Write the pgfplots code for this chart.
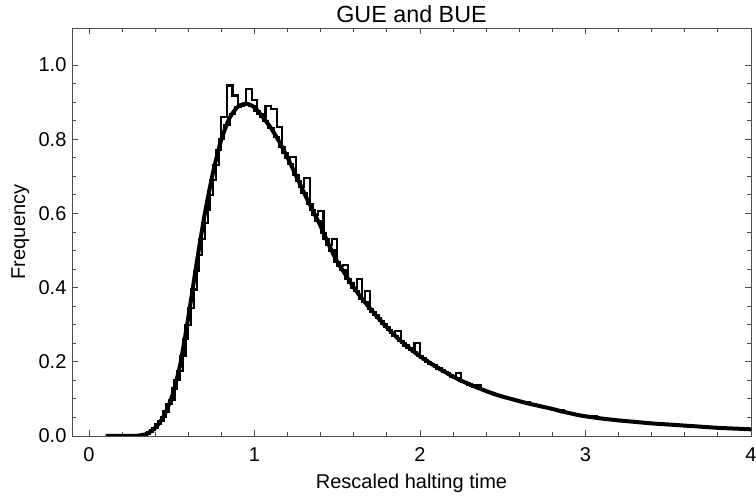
\documentclass[border=0pt]{standalone}
\usepackage{pgfplots}
\pgfplotsset{compat=1.18}
\usepackage{fontspec}
\setmainfont{Liberation Sans}
\begin{document}
\fontsize{15}{18}\selectfont
\begin{tikzpicture}
\path[use as bounding box] (-54pt,-46.5pt) rectangle (513pt,327pt);
\begin{axis}[
  at={(0,0)}, anchor=south west,
  scale only axis, width=509.25pt, height=306pt,
  xmin=-0.1028, xmax=4, ymin=0, ymax=1.1,
  /pgf/number format/assume math mode=true,
  xtick={0,1,2,3,4}, minor x tick num=4,
  ytick={0,0.2,0.4,0.6,0.8,1.0}, minor y tick num=3,
  yticklabel style={/pgf/number format/fixed, /pgf/number format/fixed zerofill, /pgf/number format/precision=1, anchor=east, inner sep=0pt, xshift=-4pt, font=\fontsize{15}{18}\selectfont},
  xticklabel style={anchor=north, inner sep=0pt, yshift=-8.25pt, font=\fontsize{15}{18}\selectfont},
  tick align=inside,
  major tick length=4.5pt, minor tick length=3pt,
  axis line style={black!70, line width=0.7pt},
  every tick/.style={black!70, line width=0.7pt},
  title={GUE and BUE},
  title style={at={(axis description cs:0.5,0.99264)}, anchor=base, inner sep=0pt, font=\fontsize{17.5}{21}\selectfont},
  xlabel={Rescaled halting time},
  xlabel style={at={(axis description cs:0.5,-0.1299)}, anchor=base, inner sep=0pt, font=\fontsize{15}{18}\selectfont},
  ylabel={Frequency},
  ylabel style={at={(axis description cs:-0.0692,0.5)}, anchor=base, inner sep=0pt, font=\fontsize{15}{18}\selectfont},
]
% histogram A
\addplot[const plot mark left, black, line width=1.6pt, line join=miter] coordinates {
(0.2500,0) (0.3000,0.003) (0.3333,0.006) (0.3667,0.017)
(0.4000,0.032) (0.4333,0.052) (0.4667,0.087)
(0.5000,0.128) (0.5333,0.175) (0.5667,0.262)
(0.6000,0.345) (0.6333,0.445) (0.6667,0.530)
(0.7000,0.610) (0.7333,0.690) (0.7667,0.771)
(0.8000,0.860) (0.8333,0.945) (0.8667,0.918)
(0.9000,0.891) (0.9333,0.896) (0.9667,0.889)
(1.0000,0.877) (1.0333,0.860) (1.0667,0.890)
(1.1000,0.882) (1.1333,0.832) (1.1667,0.764)
(1.2000,0.734) (1.2333,0.703) (1.2667,0.671)
(1.3000,0.695) (1.3333,0.610) (1.3667,0.580)
(1.4000,0.548) (1.4333,0.515) (1.4667,0.530)
(1.5000,0.458) (1.5333,0.462) (1.5667,0.412)
(1.6000,0.390) (1.6333,0.370) (1.6667,0.392)
(1.7000,0.334) (1.7333,0.317) (1.7667,0.301)
(1.8000,0.285) (1.8333,0.270) (1.8667,0.257)
(1.9000,0.244) (1.9333,0.232) (1.9667,0.251)
(2.0000,0.210) (2.0333,0.200) (2.0667,0.191)
(2.1000,0.182) (2.1333,0.173) (2.1667,0.164)
(2.2000,0.156) (2.2333,0.149) (2.2667,0.142)
(2.3000,0.136) (2.3333,0.137) (2.3667,0.124)
(2.4000,0.118) (2.4333,0.113) (2.4667,0.108)
(2.5000,0.104) (2.5333,0.100) (2.5667,0.096)
(2.6000,0.092) (2.6333,0.092) (2.6667,0.085)
(2.7000,0.081) (2.7333,0.078) (2.7667,0.075)
(2.8000,0.071) (2.8333,0.071) (2.8667,0.064)
(2.9000,0.060) (2.9333,0.057) (2.9667,0.054)
(3.0000,0.052) (3.0333,0.053) (3.0667,0.048)
(3.1000,0.046) (3.1333,0.044) (3.1667,0.043)
(3.2000,0.041) (3.2333,0.040) (3.2667,0.039)
(3.3000,0.037) (3.3333,0.036) (3.3667,0.035)
(3.4000,0.033) (3.4333,0.032) (3.4667,0.031)
(3.5000,0.030) (3.5333,0.029) (3.5667,0.028)
(3.6000,0.027) (3.6333,0.026) (3.6667,0.025)
(3.7000,0.024) (3.7333,0.023) (3.7667,0.022)
(3.8000,0.022) (3.8333,0.021) (3.8667,0.020)
(3.9000,0.020) (3.9333,0.019) (3.9667,0.018)
(4.0000,0.018) (4.0333,0.018)
};
% histogram B
\addplot[const plot mark left, black, line width=1.6pt, line join=miter] coordinates {
(0.2500,0) (0.3167,0.004) (0.3500,0.011) (0.3833,0.022)
(0.4167,0.040) (0.4500,0.066) (0.4833,0.098)
(0.5167,0.152) (0.5500,0.215) (0.5833,0.300)
(0.6167,0.395) (0.6500,0.488) (0.6833,0.575)
(0.7167,0.650) (0.7500,0.730) (0.7833,0.800)
(0.8167,0.839) (0.8500,0.868) (0.8833,0.888)
(0.9167,0.893) (0.9500,0.935) (0.9833,0.905)
(1.0167,0.869) (1.0500,0.850) (1.0833,0.830)
(1.1167,0.805) (1.1500,0.779) (1.1833,0.750)
(1.2167,0.752) (1.2500,0.687) (1.2833,0.655)
(1.3167,0.625) (1.3500,0.595) (1.3833,0.606)
(1.4167,0.532) (1.4500,0.500) (1.4833,0.470)
(1.5167,0.447) (1.5500,0.423) (1.5833,0.400)
(1.6167,0.424) (1.6500,0.361) (1.6833,0.343)
(1.7167,0.326) (1.7500,0.309) (1.7833,0.293)
(1.8167,0.278) (1.8500,0.282) (1.8833,0.250)
(1.9167,0.238) (1.9500,0.226) (1.9833,0.215)
(2.0167,0.205) (2.0500,0.195) (2.0833,0.186)
(2.1167,0.177) (2.1500,0.169) (2.1833,0.160)
(2.2167,0.171) (2.2500,0.146) (2.2833,0.139)
(2.3167,0.133) (2.3500,0.127) (2.3833,0.121)
(2.4167,0.116) (2.4500,0.111) (2.4833,0.106)
(2.5167,0.102) (2.5500,0.098) (2.5833,0.094)
(2.6167,0.090) (2.6500,0.086) (2.6833,0.083)
(2.7167,0.080) (2.7500,0.076) (2.7833,0.073)
(2.8167,0.069) (2.8500,0.065) (2.8833,0.062)
(2.9167,0.059) (2.9500,0.056) (2.9833,0.053)
(3.0167,0.051) (3.0500,0.049) (3.0833,0.047)
(3.1167,0.045) (3.1500,0.043) (3.1833,0.042)
(3.2167,0.041) (3.2500,0.039) (3.2833,0.038)
(3.3167,0.037) (3.3500,0.035) (3.3833,0.034)
(3.4167,0.033) (3.4500,0.032) (3.4833,0.031)
(3.5167,0.030) (3.5500,0.029) (3.5833,0.028)
(3.6167,0.027) (3.6500,0.026) (3.6833,0.025)
(3.7167,0.024) (3.7500,0.023) (3.7833,0.022)
(3.8167,0.022) (3.8500,0.021) (3.8833,0.020)
(3.9167,0.020) (3.9500,0.019) (3.9833,0.018)
(4.0167,0.018)
};
% fitted density curve
\addplot[black, line width=3pt, smooth, tension=0.4] coordinates {
(0.10,0) (0.20,0) (0.25,0.0002) (0.30,0.001) (0.35,0.006) (0.40,0.022) (0.45,0.052)
(0.50,0.105) (0.55,0.190) (0.60,0.320) (0.65,0.465) (0.70,0.600)
(0.75,0.712) (0.80,0.800) (0.85,0.858) (0.90,0.888) (0.95,0.896)
(1.00,0.886) (1.05,0.860) (1.10,0.830) (1.15,0.793) (1.20,0.750)
(1.25,0.703) (1.30,0.655) (1.35,0.610) (1.40,0.565) (1.45,0.515)
(1.50,0.470) (1.55,0.435) (1.60,0.400) (1.65,0.370) (1.70,0.343)
(1.75,0.317) (1.80,0.293) (1.85,0.270) (1.90,0.250) (1.95,0.232)
(2.00,0.215) (2.05,0.200) (2.10,0.186) (2.15,0.173) (2.20,0.160)
(2.25,0.149) (2.30,0.139) (2.35,0.130) (2.40,0.121) (2.45,0.113)
(2.50,0.106) (2.55,0.100) (2.60,0.094) (2.65,0.088) (2.70,0.083)
(2.75,0.078) (2.80,0.073) (2.85,0.067) (2.90,0.062) (2.95,0.057)
(3.00,0.053) (3.10,0.047) (3.20,0.042) (3.30,0.038) (3.40,0.034)
(3.50,0.031) (3.60,0.028) (3.70,0.025) (3.80,0.022) (3.90,0.020)
(4.00,0.018)
};
\end{axis}
\end{tikzpicture}
\end{document}
